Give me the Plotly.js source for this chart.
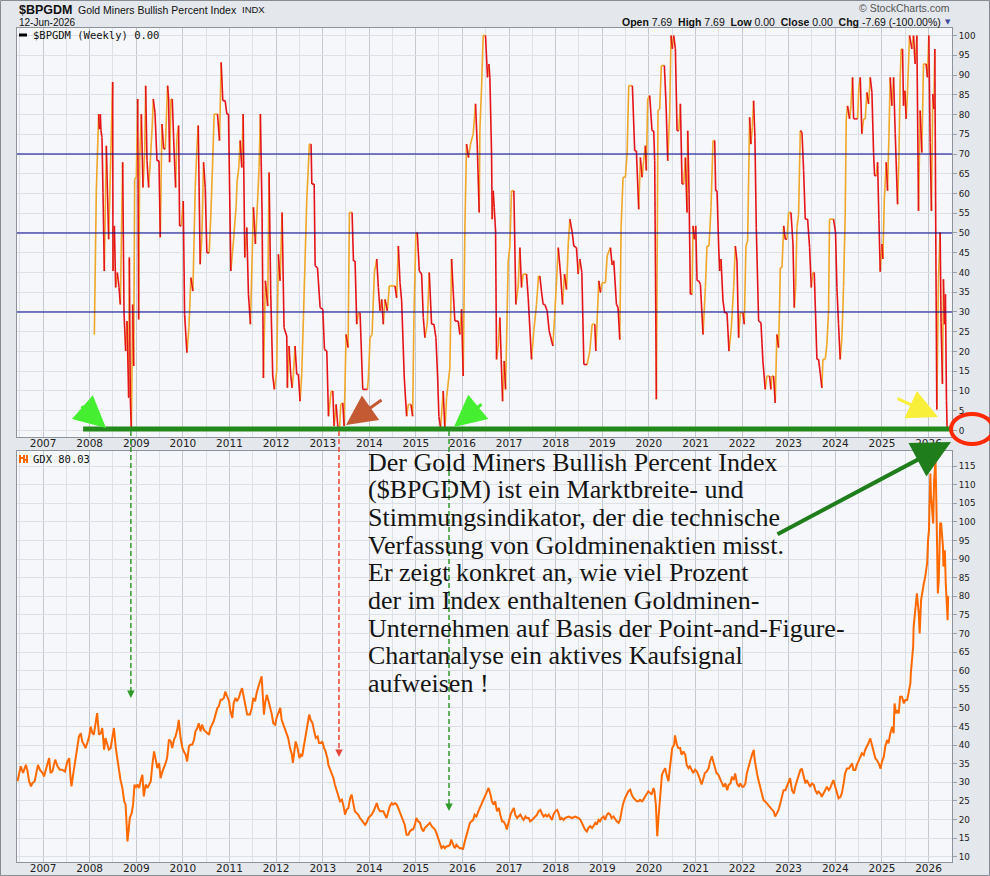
<!DOCTYPE html>
<html><head><meta charset="utf-8">
<script src="https://cdn.plot.ly/plotly-3.0.1.min.js"></script>
<style>html,body{margin:0;padding:0;background:#e4e7ec;}#chart{width:990px;height:876px;}</style>
</head><body><div id="chart"></div>
<script>
// ---------------- DATA ----------------
// $BPGDM weekly readings: [decimal year, value]
const bpgdmWeekly = [
[2008.10,24.3],[2008.143,60.7],[2008.193,80.1],[2008.207,76.3],[2008.229,80.1],[2008.243,75.9],[2008.264,74.2],[2008.286,60.3],[2008.314,40.4],[2008.357,72.1],
[2008.407,48.4],[2008.493,88.2],[2008.50,40.4],[2008.529,51.8],[2008.557,36.2],[2008.593,40.0],[2008.629,36.2],[2008.657,31.9],[2008.707,67.9],[2008.736,29.8],
[2008.771,20.1],[2008.80,27.7],[2008.836,8.3],[2008.85,43.8],[2008.871,8.3],[2008.893,0],[2008.921,31.9],[2008.943,16.3],[2008.964,63.6],[2009.00,64.1],
[2009.029,83.9],[2009.05,28.1],[2009.071,68.3],[2009.107,80.1],[2009.143,61.5],[2009.179,70.4],[2009.20,87.3],[2009.229,68.3],[2009.264,61.5],[2009.30,68.3],
[2009.343,77.6],[2009.364,83.9],[2009.40,80.5],[2009.443,68.3],[2009.486,68.3],[2009.514,48.9],[2009.55,77.6],[2009.586,71.3],[2009.621,71.3],[2009.671,87.3],
[2009.693,83.9],[2009.714,67.9],[2009.743,83.9],[2009.771,83.9],[2009.80,74.2],[2009.843,61.5],[2009.871,74.2],[2009.907,77.2],[2009.929,51.8],[2009.964,51.8],
[2010.007,58.1],[2010.036,29.4],[2010.086,19.7],[2010.129,26.0],[2010.171,38.7],[2010.214,35.3],[2010.229,42.9],[2010.264,61.5],[2010.30,71.3],[2010.329,77.2],
[2010.371,42.1],[2010.407,48.9],[2010.443,67.9],[2010.479,61.5],[2010.514,45.0],[2010.564,45.0],[2010.60,54.8],[2010.636,67.0],[2010.671,80.1],[2010.743,80.1],
[2010.786,73.4],[2010.821,93.2],[2010.857,83.5],[2010.907,83.5],[2010.943,80.1],[2010.979,80.1],[2011.029,40.4],[2011.086,48.0],[2011.143,56.9],[2011.164,63.2],
[2011.20,66.6],[2011.229,73.4],[2011.264,66.6],[2011.293,80.1],[2011.329,43.8],[2011.371,51.4],[2011.407,34.5],[2011.45,26.9],[2011.514,56.5],[2011.557,47.2],
[2011.60,57.3],[2011.636,66.6],[2011.664,80.1],[2011.70,54.8],[2011.729,13.3],[2011.771,37.9],[2011.821,31.5],[2011.85,65.3],[2011.886,34.5],[2011.929,13.8],
[2011.964,10.4],[2012.014,15.0],[2012.05,44.6],[2012.086,37.9],[2012.129,55.2],[2012.171,26.0],[2012.229,23.9],[2012.243,10.8],[2012.279,21.4],[2012.314,14.2],
[2012.343,10.8],[2012.371,14.2],[2012.407,21.4],[2012.443,14.2],[2012.479,14.2],[2012.514,7.4],[2012.55,14.2],[2012.586,28.6],[2012.621,42.9],[2012.657,58.1],
[2012.714,72.5],[2012.75,72.5],[2012.766,62.4],[2012.816,62.4],[2012.837,41.7],[2012.887,41.2],[2012.944,31.1],[2013.001,30.7],[2013.037,20.5],[2013.087,20.1],
[2013.123,3.6],[2013.18,10.0],[2013.216,10.0],[2013.244,1.1],[2013.287,6.6],[2013.323,1.1],[2013.359,0],[2013.387,6.6],[2013.43,7.0],[2013.459,1.1],
[2013.501,24.3],[2013.544,21.0],[2013.573,55.2],[2013.63,55.2],[2013.659,42.9],[2013.694,42.9],[2013.73,26.9],[2013.766,29.8],[2013.801,29.8],[2013.859,10.4],
[2013.909,10.4],[2013.959,10.4],[2013.98,13.3],[2014.016,23.5],[2014.059,24.3],[2014.109,40.0],[2014.159,43.4],[2014.194,36.2],[2014.23,30.3],[2014.266,33.2],
[2014.301,26.9],[2014.337,33.2],[2014.387,30.3],[2014.43,36.6],[2014.551,36.6],[2014.587,33.6],[2014.623,46.7],[2014.659,37.4],[2014.694,32.8],[2014.751,13.3],
[2014.801,3.6],[2014.837,6.6],[2014.894,6.6],[2014.93,3.6],[2014.959,29.4],[2015.001,50.1],[2015.03,50.1],[2015.073,40.4],[2015.123,39.6],[2015.159,28.6],
[2015.194,23.5],[2015.244,26.9],[2015.287,40.0],[2015.337,26.9],[2015.387,26.9],[2015.43,23.5],[2015.466,13.8],[2015.494,3.6],[2015.53,0.7],[2015.587,10.0],
[2015.623,0],[2015.659,8.3],[2015.73,15.9],[2015.766,43.4],[2015.801,35.3],[2015.837,27.7],[2015.909,27.7],[2015.944,24.3],[2015.98,30.7],[2016.016,13.8],
[2016.051,50.5],[2016.087,72.5],[2016.13,69.1],[2016.173,72.5],[2016.23,75.1],[2016.28,82.7],[2016.316,72.5],[2016.359,55.2],[2016.373,75.9],[2016.409,86.9],
[2016.444,100],[2016.494,100],[2016.537,89.4],[2016.566,92.8],[2016.587,89.4],[2016.623,70.0],[2016.637,53.5],[2016.659,60.7],[2016.68,56.5],[2016.709,50.5],
[2016.73,18.0],[2016.766,21.4],[2016.801,28.6],[2016.83,18.0],[2016.859,7.4],[2016.894,17.6],[2016.923,10.4],[2016.98,42.9],[2017.016,46.7],[2017.051,60.7],
[2017.101,60.7],[2017.144,31.9],[2017.194,36.6],[2017.23,46.3],[2017.266,36.2],[2017.301,39.6],[2017.373,39.6],[2017.409,33.6],[2017.48,18.0],[2017.53,25.2],
[2017.587,31.9],[2017.63,39.1],[2017.659,39.1],[2017.694,35.3],[2017.73,31.9],[2017.766,31.9],[2017.816,30.3],[2017.859,25.2],[2017.939,21.4],[2017.975,28.6],
[2018.018,37.9],[2018.054,46.3],[2018.104,39.6],[2018.146,31.9],[2018.189,39.6],[2018.232,35.7],[2018.268,47.0],[2018.304,53.5],[2018.354,50.1],[2018.389,46.7],
[2018.446,46.3],[2018.482,39.6],[2018.518,43.4],[2018.561,40.0],[2018.604,16.7],[2018.675,16.7],[2018.732,20.1],[2018.782,26.9],[2018.839,26.9],[2018.861,20.1],
[2018.925,37.9],[2018.961,34.9],[2018.996,37.4],[2019.068,37.4],[2019.104,44.2],[2019.175,46.3],[2019.211,41.9],[2019.246,43.0],[2019.304,31.9],[2019.339,31.1],
[2019.375,23.0],[2019.404,51.4],[2019.446,64.1],[2019.496,64.1],[2019.532,70.0],[2019.568,87.3],[2019.646,87.3],[2019.696,70.8],[2019.732,70.8],[2019.782,56.0],
[2019.818,69.1],[2019.854,64.1],[2019.889,68.3],[2019.925,72.1],[2019.946,65.8],[2019.975,83.9],[2020.018,84.8],[2020.068,75.9],[2020.104,75.9],[2020.125,68.3],
[2020.161,7.9],[2020.196,81.0],[2020.232,81.4],[2020.268,92.4],[2020.332,92.4],[2020.368,82.7],[2020.404,68.3],[2020.446,80.1],[2020.475,100],[2020.504,96.6],
[2020.532,100],[2020.568,96.6],[2020.604,75.9],[2020.639,75.9],[2020.675,82.7],[2020.711,62.4],[2020.746,62.4],[2020.782,69.1],[2020.818,55.2],[2020.832,75.9],
[2020.861,59.8],[2020.889,34.5],[2020.925,34.5],[2020.946,51.8],[2020.975,48.4],[2021.004,51.8],[2021.032,37.9],[2021.068,37.9],[2021.104,37.0],[2021.161,24.3],
[2021.211,36.2],[2021.246,46.7],[2021.289,46.7],[2021.332,56.5],[2021.375,73.4],[2021.411,73.4],[2021.432,60.7],[2021.461,60.7],[2021.496,46.7],[2021.518,40.4],
[2021.546,43.4],[2021.589,32.8],[2021.625,29.8],[2021.675,29.8],[2021.718,20.1],[2021.768,26.0],[2021.818,36.2],[2021.854,46.7],[2021.889,42.9],[2021.925,23.5],
[2021.961,29.8],[2022.018,29.8],[2022.046,26.9],[2022.082,46.7],[2022.118,48.0],[2022.161,79.3],[2022.189,72.5],[2022.218,76.7],[2022.246,83.5],[2022.275,74.2],
[2022.304,51.4],[2022.354,27.7],[2022.404,27.3],[2022.446,17.6],[2022.496,10.4],[2022.532,13.8],[2022.589,13.8],[2022.618,10.4],[2022.639,13.8],[2022.675,13.8],
[2022.711,7.0],[2022.746,24.3],[2022.782,21.0],[2022.804,31.1],[2022.82,41.2],[2022.856,41.2],[2022.892,51.8],[2022.927,48.4],[2022.963,48.4],[2022.999,55.2],
[2023.049,55.2],[2023.092,47.2],[2023.12,31.1],[2023.149,36.2],[2023.177,51.4],[2023.213,54.8],[2023.249,75.9],[2023.285,75.5],[2023.32,65.8],[2023.356,53.5],
[2023.406,53.5],[2023.449,46.3],[2023.485,36.2],[2023.52,40.0],[2023.549,40.0],[2023.606,18.0],[2023.642,18.0],[2023.677,14.5],[2023.713,10.8],[2023.735,18.0],
[2023.785,18.0],[2023.82,21.8],[2023.856,30.3],[2023.877,53.5],[2023.963,53.5],[2024.006,50.1],[2024.035,36.2],[2024.07,26.9],[2024.106,18.0],[2024.142,23.5],
[2024.177,36.2],[2024.213,54.8],[2024.235,78.9],[2024.263,82.2],[2024.306,78.9],[2024.335,82.2],[2024.37,89.4],[2024.392,78.9],[2024.427,78.9],[2024.477,78.9],
[2024.506,86.9],[2024.535,89.4],[2024.57,75.1],[2024.606,78.9],[2024.642,78.9],[2024.677,85.6],[2024.713,82.7],[2024.749,89.4],[2024.785,85.6],[2024.82,70.4],
[2024.842,64.5],[2024.877,64.5],[2024.906,67.9],[2024.935,53.5],[2024.963,40.2],[2024.999,47.2],[2025.02,43.4],[2025.049,58.1],[2025.092,67.9],[2025.12,60.7],
[2025.149,74.2],[2025.177,89.4],[2025.213,82.2],[2025.249,89.4],[2025.285,75.1],[2025.335,57.3],[2025.363,68.3],[2025.392,89.4],[2025.413,96.6],[2025.442,96.6],
[2025.463,82.2],[2025.492,86.0],[2025.52,78.9],[2025.549,86.0],[2025.592,100],[2025.642,96.6],[2025.677,100],[2025.713,92.8],[2025.749,100],[2025.785,55.6],
[2025.82,81.0],[2025.856,70.4],[2025.892,92.8],[2025.949,92.8],[2025.977,89.4],[2026.006,100],[2026.035,72.9],[2026.063,55.6],[2026.092,85.2],[2026.113,81.4],
[2026.135,96.6],[2026.156,49.0],[2026.178,5.3],[2026.213,38.2],[2026.249,50.1],[2026.27,27.3],[2026.299,11.8],[2026.32,38.3],[2026.342,26.9],[2026.363,34.5],
[2026.385,7.69],[2026.40,0]
];

// GDX closes: [decimal year, price]
const gdxDaily = [
[2006.45,30.3],[2006.49,32.9],[2006.52,34.3],[2006.57,32.5],[2006.63,34.7],[2006.66,33.4],[2006.70,30.3],[2006.74,28.9],[2006.77,29.8],[2006.82,30.3],
[2006.86,32.5],[2006.89,34.7],[2006.93,33.4],[2006.99,32.5],[2007.02,31.6],[2007.06,33.8],[2007.09,34.7],[2007.13,36.5],[2007.16,32.5],[2007.20,32.9],
[2007.26,36.1],[2007.31,34.3],[2007.36,33.4],[2007.41,33.4],[2007.47,32.9],[2007.52,35.6],[2007.56,36.5],[2007.59,31.1],[2007.61,28.9],[2007.64,31.6],
[2007.69,36.1],[2007.74,39.2],[2007.77,42.3],[2007.81,43.2],[2007.84,41.0],[2007.88,40.1],[2007.91,39.2],[2007.95,40.6],[2007.99,42.3],[2008.02,45.0],
[2008.06,43.2],[2008.09,42.8],[2008.13,46.8],[2008.16,48.6],[2008.20,42.8],[2008.24,43.2],[2008.27,44.6],[2008.31,38.8],[2008.34,41.9],[2008.38,40.1],
[2008.41,38.8],[2008.45,39.2],[2008.49,42.8],[2008.52,44.6],[2008.56,39.2],[2008.59,36.5],[2008.63,32.0],[2008.66,30.7],[2008.70,28.5],[2008.74,24.9],
[2008.77,24.0],[2008.81,14.1],[2008.84,17.7],[2008.86,20.4],[2008.90,21.7],[2008.93,24.0],[2008.96,29.4],[2008.99,28.5],[2009.02,29.4],[2009.06,28.5],
[2009.09,30.3],[2009.13,32.0],[2009.16,26.2],[2009.20,29.4],[2009.24,28.5],[2009.27,29.4],[2009.31,30.3],[2009.34,34.3],[2009.38,38.3],[2009.41,36.5],
[2009.45,33.8],[2009.49,35.2],[2009.52,31.1],[2009.56,32.9],[2009.59,33.8],[2009.63,35.2],[2009.66,36.5],[2009.70,41.5],[2009.74,41.0],[2009.77,39.2],
[2009.81,41.5],[2009.84,42.3],[2009.88,44.1],[2009.91,46.8],[2009.95,41.9],[2009.99,39.2],[2010.02,38.3],[2010.06,37.4],[2010.09,35.6],[2010.13,39.7],
[2010.16,40.1],[2010.20,40.1],[2010.24,41.5],[2010.27,43.7],[2010.31,44.6],[2010.34,45.9],[2010.38,43.7],[2010.41,45.5],[2010.45,44.1],[2010.49,43.7],
[2010.52,43.2],[2010.56,42.8],[2010.59,44.6],[2010.63,45.5],[2010.66,46.4],[2010.70,48.2],[2010.74,50.0],[2010.77,50.4],[2010.81,52.2],[2010.84,52.2],
[2010.88,52.7],[2010.91,54.4],[2010.95,53.1],[2010.99,51.8],[2011.02,49.1],[2011.06,47.3],[2011.09,51.3],[2011.13,52.7],[2011.16,51.8],[2011.20,52.7],
[2011.24,54.4],[2011.27,55.3],[2011.31,52.7],[2011.34,50.4],[2011.38,48.2],
[2011.44,48.2],[2011.48,50.0],[2011.51,52.7],[2011.55,51.8],[2011.59,54.4],[2011.62,55.8],[2011.66,57.6],[2011.69,58.5],[2011.71,54.4],[2011.74,48.2],
[2011.76,50.9],[2011.80,53.5],[2011.84,51.8],[2011.87,50.4],[2011.91,48.2],[2011.94,45.9],[2011.98,45.5],[2012.01,47.3],[2012.05,48.6],[2012.09,50.0],
[2012.12,46.8],[2012.16,45.5],[2012.19,44.6],[2012.23,42.8],[2012.26,41.9],[2012.30,39.2],[2012.34,37.4],[2012.36,35.2],[2012.39,38.3],[2012.42,41.0],
[2012.46,39.2],[2012.50,36.5],[2012.53,37.4],[2012.56,37.0],[2012.60,40.1],[2012.64,42.8],[2012.67,45.5],[2012.71,48.2],[2012.74,46.8],[2012.78,45.9],
[2012.81,44.1],[2012.85,41.9],[2012.89,42.3],[2012.92,40.6],[2012.96,40.6],[2012.99,41.0],[2013.03,39.2],[2013.06,38.3],[2013.10,36.5],[2013.12,34.7],
[2013.16,33.4],[2013.19,32.5],[2013.23,31.1],[2013.26,29.4],[2013.30,27.6],[2013.34,25.8],[2013.37,24.9],[2013.41,25.3],[2013.44,24.0],[2013.48,21.3],
[2013.51,22.6],[2013.55,23.1],[2013.59,25.8],[2013.62,26.7],[2013.66,24.0],[2013.69,22.2],[2013.73,21.7],[2013.76,21.3],[2013.80,20.4],[2013.87,19.1],
[2013.91,18.6],[2013.94,19.1],[2013.98,20.4],[2014.01,20.8],[2014.05,21.3],[2014.09,22.2],[2014.12,23.1],[2014.16,24.4],[2014.19,23.1],[2014.23,22.2],
[2014.30,22.2],[2014.34,21.3],[2014.37,20.4],[2014.41,22.2],[2014.44,23.5],[2014.48,24.4],[2014.51,24.0],[2014.55,24.4],[2014.59,24.0],[2014.62,23.1],
[2014.66,21.7],[2014.69,20.8],[2014.73,19.5],[2014.76,18.6],[2014.80,15.9],[2014.84,15.9],[2014.87,16.8],[2014.91,17.3],[2014.94,17.3],[2014.98,18.6],
[2015.01,20.4],[2015.05,19.5],[2015.09,19.1],[2015.12,17.7],[2015.16,16.8],[2015.19,17.7],[2015.23,18.2],[2015.26,18.6],[2015.30,19.1],[2015.34,18.2],
[2015.37,17.7],[2015.41,17.3],[2015.44,16.4],[2015.48,15.0],[2015.51,14.1],[2015.55,12.3],[2015.59,12.8],[2015.62,12.3],[2015.66,12.8],[2015.69,12.8],
[2015.73,13.2],[2015.76,14.6],[2015.80,13.2],[2015.84,12.3],[2015.87,13.2],[2015.91,12.8],[2015.94,12.3],[2015.98,12.3],[2016.01,11.9],[2016.05,14.1],
[2016.09,15.9],[2016.12,17.3],[2016.16,19.1],[2016.19,19.5],[2016.23,19.9],[2016.26,21.3],[2016.30,20.8],[2016.34,22.2],[2016.37,23.1],[2016.41,24.0],[2016.44,24.9],
[2016.49,26.7],[2016.53,27.6],[2016.56,28.5],[2016.60,26.7],[2016.63,24.9],[2016.67,24.0],[2016.70,24.9],[2016.74,22.2],[2016.78,23.1],[2016.81,21.3],
[2016.85,19.5],[2016.88,19.5],[2016.92,18.6],[2016.95,17.3],[2016.99,19.5],[2017.03,21.3],[2017.06,22.2],[2017.10,23.1],[2017.13,21.3],[2017.17,20.4],
[2017.20,20.8],[2017.24,21.3],[2017.28,20.4],[2017.31,19.9],[2017.35,20.8],[2017.38,20.4],[2017.42,20.4],[2017.45,19.5],[2017.49,19.9],[2017.53,20.4],
[2017.56,20.8],[2017.60,21.3],[2017.63,22.2],[2017.67,22.6],[2017.70,21.7],[2017.74,20.8],[2017.78,21.3],[2017.81,20.8],[2017.85,21.3],[2017.88,20.8],
[2017.92,19.9],[2017.95,21.3],[2017.99,22.2],[2018.03,22.6],[2018.06,21.7],[2018.10,19.9],[2018.13,20.4],[2018.17,19.9],[2018.20,20.4],[2018.28,20.8],
[2018.35,20.4],[2018.42,20.8],[2018.49,20.4],[2018.53,19.9],[2018.56,19.1],[2018.60,17.7],[2018.63,17.3],[2018.67,16.8],[2018.70,17.7],[2018.74,18.2],
[2018.78,17.7],[2018.81,18.2],[2018.85,19.1],[2018.88,18.6],[2018.92,19.9],[2018.95,19.5],[2018.99,20.4],[2019.03,20.8],[2019.06,19.9],[2019.10,21.3],
[2019.13,21.7],[2019.17,21.3],[2019.20,20.4],[2019.24,20.8],[2019.28,19.9],[2019.31,19.5],[2019.35,19.1],[2019.38,19.9],[2019.42,22.6],[2019.45,24.4],
[2019.49,25.8],[2019.53,26.7],[2019.56,27.6],[2019.60,28.0],[2019.63,26.7],[2019.67,25.8],[2019.70,25.3],[2019.74,24.9],[2019.78,24.9],[2019.81,25.3],
[2019.85,24.9],[2019.88,25.3],[2019.92,26.2],[2019.95,26.7],[2019.99,27.6],[2020.03,27.1],[2020.06,26.7],[2020.10,28.5],[2020.12,27.6],[2020.15,24.0],
[2020.17,16.8],[2020.18,15.5],[2020.20,19.5],[2020.23,24.0],[2020.25,28.5],[2020.28,32.0],[2020.31,32.9],[2020.35,33.8],[2020.38,32.0],[2020.42,30.3],
[2020.45,33.8],[2020.48,36.5],[2020.50,39.2],[2020.54,40.1],[2020.56,42.6],[2020.60,40.1],[2020.63,39.2],[2020.67,39.2],[2020.70,37.4],[2020.74,38.3],
[2020.78,37.4],[2020.81,34.7],[2020.85,33.8],[2020.88,34.3],[2020.92,33.4],[2020.95,32.5],[2020.99,33.4],[2021.03,32.9],[2021.06,32.0],[2021.10,30.7],
[2021.13,29.4],[2021.17,31.1],[2021.20,32.5],[2021.24,32.9],[2021.28,33.8],[2021.31,35.6],[2021.35,37.0],[2021.38,35.6],[2021.42,33.4],[2021.45,32.5],[2021.49,32.0],
[2021.53,30.6],[2021.57,29.7],[2021.60,28.8],[2021.64,29.7],[2021.68,27.9],[2021.71,29.3],[2021.75,29.7],[2021.78,31.5],[2021.82,30.6],[2021.85,32.4],
[2021.89,29.7],[2021.93,28.8],[2021.96,29.7],[2022.00,28.8],[2022.03,28.8],[2022.07,29.7],[2022.10,32.4],[2022.14,34.6],[2022.18,36.0],[2022.21,37.3],
[2022.25,38.7],[2022.27,36.0],[2022.30,33.3],[2022.32,32.4],[2022.35,30.6],[2022.39,28.8],[2022.43,27.0],[2022.46,25.2],[2022.50,24.8],[2022.53,24.3],
[2022.57,23.9],[2022.60,23.4],[2022.64,22.5],[2022.68,22.1],[2022.71,20.8],[2022.75,21.6],[2022.78,22.5],[2022.82,24.3],[2022.85,26.1],[2022.89,27.9],
[2022.93,27.9],[2022.96,28.8],[2023.00,29.7],[2023.03,31.1],[2023.07,27.9],[2023.11,27.0],[2023.14,28.8],[2023.18,30.6],[2023.21,31.5],[2023.25,33.3],
[2023.28,33.7],[2023.32,31.5],[2023.36,29.7],[2023.39,30.6],[2023.43,29.7],[2023.46,28.8],[2023.50,29.7],[2023.54,29.3],[2023.57,27.9],[2023.61,27.0],
[2023.64,27.5],[2023.68,27.0],[2023.71,26.1],[2023.75,27.0],[2023.79,27.9],[2023.82,28.8],[2023.86,27.9],[2023.89,28.4],[2023.93,29.7],[2023.96,30.6],
[2024.00,28.8],[2024.04,27.0],[2024.07,25.7],[2024.11,26.1],[2024.14,27.0],[2024.18,29.7],[2024.21,32.4],[2024.25,33.7],[2024.29,33.7],[2024.32,34.2],
[2024.36,35.1],[2024.39,33.3],[2024.43,33.3],[2024.46,34.6],[2024.50,36.0],[2024.54,36.9],[2024.57,37.8],[2024.61,37.3],[2024.64,38.7],[2024.68,39.6],
[2024.71,40.5],[2024.75,41.8],[2024.79,39.6],[2024.82,37.8],[2024.86,36.4],[2024.89,36.0],[2024.93,35.1],[2024.97,33.7],[2025.00,35.5],[2025.04,36.9],
[2025.07,39.6],[2025.11,41.4],[2025.14,40.5],[2025.18,43.2],[2025.22,44.9],[2025.25,43.2],[2025.27,51.2],[2025.30,48.5],[2025.32,49.4],[2025.36,48.5],
[2025.39,53.0],[2025.43,53.0],[2025.47,51.2],[2025.50,52.1],[2025.54,52.1],[2025.57,53.9],[2025.61,56.6],[2025.62,59.3],[2025.65,64.7],[2025.67,66.5],
[2025.68,71.8],[2025.72,76.3],[2025.75,80.8],[2025.79,75.4],[2025.81,70.0],[2025.84,79.0],[2025.86,80.8],[2025.90,83.5],[2025.93,85.3],[2025.97,88.9],
[2025.99,95.1],[2026.01,97.8],[2026.02,104.1],[2026.04,113.0],[2026.05,107.7],[2026.07,104.1],[2026.10,99.6],[2026.12,111.3],[2026.15,116.6],[2026.17,104.1],
[2026.18,95.1],[2026.20,80.8],[2026.22,84.4],[2026.24,95.1],[2026.25,99.6],[2026.27,99.6],[2026.29,96.0],[2026.31,93.3],[2026.32,88.0],[2026.35,92.4],
[2026.37,83.5],[2026.38,80.8],[2026.395,79.0],[2026.41,73.6],[2026.42,79.9],[2026.43,80.03]
];

const bpgdmLevels = [70, 50, 30];
const headerQuote = {open: "7.69", high: "7.69", low: "0.00", close: "0.00", chg: "-7.69 (-100.00%)"};
const bpgdmLast = "0.00";
const gdxLast = "80.03";
const noteLines = [
  "Der Gold Miners Bullish Percent Index",
  "($BPGDM) ist ein Marktbreite- und",
  "Stimmungsindikator, der die technische",
  "Verfassung von Goldminenaktien misst.",
  "Er zeigt konkret an, wie viel Prozent",
  "der im Index enthaltenen Goldminen-",
  "Unternehmen auf Basis der Point-and-Figure-",
  "Chartanalyse ein aktives Kaufsignal",
  "aufweisen !"
];
// signal dates (decimal years) marked by dashed arrows
const signalDates = [2008.89, 2013.356, 2015.717];

// ---------------- HELPERS ----------------
function toDate(y){
  const yr = Math.floor(y);
  const s = Date.UTC(yr,0,1), e = Date.UTC(yr+1,0,1);
  return new Date(s + (y-yr)*(e-s)).toISOString().slice(0,19).replace('T',' ');
}
// pixel -> paper (decorations only)
const PX = x => (x - 17) / 935;
const PY = y => (862 - y) / 834;

// split into rising / falling segments
const up = {x:[], y:[]}, dn = {x:[], y:[]};
let lastDir = 'dn';
for (let i = 0; i < bpgdmWeekly.length - 1; i++){
  const a = bpgdmWeekly[i], b = bpgdmWeekly[i+1];
  let dir = b[1] > a[1] ? 'up' : (b[1] < a[1] ? 'dn' : lastDir);
  const t = dir === 'up' ? up : dn;
  t.x.push(toDate(a[0]), toDate(b[0]), null);
  t.y.push(a[1], b[1], null);
  lastDir = dir;
}

const xr = [toDate(2006.44), toDate(2026.504)];
const RED = '#e5141b', GOLD = '#f0a628', GDXC = '#ff6a00';

const traces = [
  {type:'scatter', mode:'lines', x:up.x, y:up.y, xaxis:'x', yaxis:'y', line:{color:GOLD, width:1.6}, hoverinfo:'skip'},
  {type:'scatter', mode:'lines', x:dn.x, y:dn.y, xaxis:'x', yaxis:'y', line:{color:RED, width:1.6}, hoverinfo:'skip'},
  {type:'scatter', mode:'lines', x:gdxDaily.map(d=>toDate(d[0])), y:gdxDaily.map(d=>d[1]), xaxis:'x2', yaxis:'y2', line:{color:GDXC, width:2}, hoverinfo:'skip'}
];

const tickF = {family:'DejaVu Sans, Verdana, sans-serif', size:10.5, color:'#222'};
const yTickF = {family:'DejaVu Sans, Verdana, sans-serif', size:8.8, color:'#222'};
const xCommon = {
  type:'date', range:xr, tickformat:'%Y', dtick:'M12', tick0:'2000-01-01', ticks:'',
  showgrid:true, gridcolor:'#c5cad2', gridwidth:1,
  minor:{dtick:'M6', showgrid:true, gridcolor:'#dde1e7', gridwidth:1},
  showline:true, mirror:true, linecolor:'#8d929b', linewidth:1,
  tickfont:tickF, zeroline:false, fixedrange:true, ticklabelstandoff:-4
};
const yCommon = {
  side:'right', dtick:5, ticks:'outside', ticklen:4, tickcolor:'#9aa0a8',
  showgrid:true, gridcolor:'#dde1e7', gridwidth:1,
  showline:true, mirror:true, linecolor:'#8d929b', linewidth:1,
  tickfont:yTickF, zeroline:false, fixedrange:true
};

const shapes = [];
// outer frame
shapes.push({type:'rect', xref:'paper', yref:'paper', x0:PX(0.5), x1:PX(989.5), y0:PY(0.5), y1:PY(875.5), line:{color:'#868b94', width:1}, layer:'below'});
// reference levels
bpgdmLevels.forEach(v => shapes.push({type:'line', xref:'x', yref:'y', x0:xr[0], x1:xr[1], y0:v, y1:v, line:{color:'#00008b', width:1.2}}));
// thick green zero line
shapes.push({type:'line', xref:'x', yref:'y', x0:toDate(2007.86), x1:xr[1], y0:0.35, y1:0.35, line:{color:'#22891a', width:5}});
// dashed signal lines
const dashEnds = [698, 757, 811];
const dashCols = ['#2f9a2a', '#e8483a', '#2f9a2a'];
signalDates.forEach((d, i) => {
  const px = 136 + (d - 2009) * 46.6;
  shapes.push({type:'line', xref:'paper', yref:'paper', x0:PX(px), x1:PX(px), y0:PY(431), y1:PY(dashEnds[i]-6), line:{color:dashCols[i], width:1.5, dash:'5px,3px'}});
});
// red ellipse around the 0 label
shapes.push({type:'circle', xref:'paper', yref:'paper', x0:PX(951), x1:PX(993), y0:PY(444), y1:PY(414), line:{color:'#ff2a00', width:4}});
// legend mark top
shapes.push({type:'line', xref:'paper', yref:'paper', x0:PX(19), x1:PX(27), y0:PY(35), y1:PY(35), line:{color:'#000', width:3}});
// GDX legend icon
const ic = (x,y)=>PX(x)+','+PY(y);
shapes.push({type:'path', xref:'paper', yref:'paper',
  path:'M'+ic(20,463)+' L'+ic(20,455)+' M'+ic(20,458)+' L'+ic(23,458)+' M'+ic(24,455)+' L'+ic(24,463)+' M'+ic(27,455)+' L'+ic(27,463)+' M'+ic(24,460)+' L'+ic(27,460),
  line:{color:GDXC, width:2}});

const anns = [];
const sans = 'Liberation Sans, Arial, sans-serif';
anns.push({xref:'paper', yref:'paper', x:PX(17), y:PY(10), xanchor:'left', yanchor:'middle', showarrow:false, text:'<b>$BPGDM</b>', font:{family:sans, size:12.5, color:'#111'}});
anns.push({xref:'paper', yref:'paper', x:PX(76), y:PY(10), xanchor:'left', yanchor:'middle', showarrow:false, text:'Gold Miners Bullish Percent Index', font:{family:sans, size:10.5, color:'#111'}});
anns.push({xref:'paper', yref:'paper', x:PX(240), y:PY(10), xanchor:'left', yanchor:'middle', showarrow:false, text:'INDX', font:{family:sans, size:9.5, color:'#111'}});
anns.push({xref:'paper', yref:'paper', x:PX(17), y:PY(22), xanchor:'left', yanchor:'middle', showarrow:false, text:'12-Jun-2026', font:{family:sans, size:10, color:'#111'}});
anns.push({xref:'paper', yref:'paper', x:PX(952), y:PY(8), xanchor:'right', yanchor:'middle', showarrow:false, text:'© StockCharts.com', font:{family:sans, size:10.5, color:'#555'}});
anns.push({xref:'paper', yref:'paper', x:PX(943), y:PY(22), xanchor:'right', yanchor:'middle', showarrow:false,
  text:'<b>Open</b> '+headerQuote.open+'  <b>High</b> '+headerQuote.high+'  <b>Low</b> '+headerQuote.low+'  <b>Close</b> '+headerQuote.close+'  <b>Chg</b> '+headerQuote.chg,
  font:{family:sans, size:10.5, color:'#111'}});
anns.push({xref:'paper', yref:'paper', x:PX(948), y:PY(22), xanchor:'center', yanchor:'middle', showarrow:false, text:'▼', font:{family:'DejaVu Sans', size:7, color:'#3b4d9c'}});
anns.push({xref:'paper', yref:'paper', x:PX(31), y:PY(35), xanchor:'left', yanchor:'middle', showarrow:false, text:'$BPGDM (Weekly) '+bpgdmLast, font:{family:'DejaVu Sans Mono, monospace', size:10.5, color:'#111'}});
anns.push({xref:'paper', yref:'paper', x:PX(31), y:PY(459), xanchor:'left', yanchor:'middle', showarrow:false, text:'GDX '+gdxLast, font:{family:'DejaVu Sans Mono, monospace', size:10.5, color:'#111'}});

// paragraph
noteLines.forEach((t, i) => {
  anns.push({xref:'paper', yref:'paper', x:PX(366), y:PY(462 + i*27.7), xanchor:'left', yanchor:'middle', showarrow:false, text:t,
    font:{family:'Liberation Serif, Times New Roman, serif', size:26, color:'#151515'}});
});

// arrowheads of dashed signal lines
signalDates.forEach((d, i) => {
  const px = 136 + (d - 2009) * 46.6;
  anns.push({xref:'paper', yref:'paper', x:PX(px), y:PY(dashEnds[i]), ax:0, ay:-9, showarrow:true, arrowhead:2, arrowsize:1, arrowwidth:1.5, arrowcolor:dashCols[i], text:''});
});

// pointer arrows
function arrow(tip, tail, color, w, s, head){
  anns.push({xref:'paper', yref:'paper', x:PX(tip[0]), y:PY(tip[1]), ax:tail[0]-tip[0], ay:tail[1]-tip[1],
    showarrow:true, arrowhead:head||2, arrowsize:s, arrowwidth:w, arrowcolor:color, text:'', standoff:0});
}
arrow([106,428],[80,405],'#45ee30',3,2.1,2);
arrow([454,427],[483,403],'#45ee30',3,2.1,2);
arrow([346,425],[383,399],'#c35a34',3,2,2);
arrow([938,417],[896,398],'#f8ef3a',3,2,2);
arrow([951,442],[776,535],'#1f7d1c',4,1.9,2);

const layout = {
  width:990, height:876,
  margin:{l:17, r:38, t:28, b:14},
  paper_bgcolor:'#e4e7ec', plot_bgcolor:'#f5f7fa',
  showlegend:false,
  font:{family:'DejaVu Sans, sans-serif', color:'#222'},
  xaxis: Object.assign({}, xCommon, {anchor:'y', domain:[0,1]}),
  yaxis: Object.assign({}, yCommon, {anchor:'x', domain:[(862-437)/834, 1], range:[-1.65, 101.9]}),
  xaxis2: Object.assign({}, xCommon, {anchor:'y2', domain:[0,1]}),
  yaxis2: Object.assign({}, yCommon, {anchor:'x2', domain:[0, (862-450.5)/834], range:[8.58, 119.2]}),
  shapes: shapes,
  annotations: anns
};

Plotly.newPlot('chart', traces, layout, {staticPlot:true, displayModeBar:false});
</script></body></html>
